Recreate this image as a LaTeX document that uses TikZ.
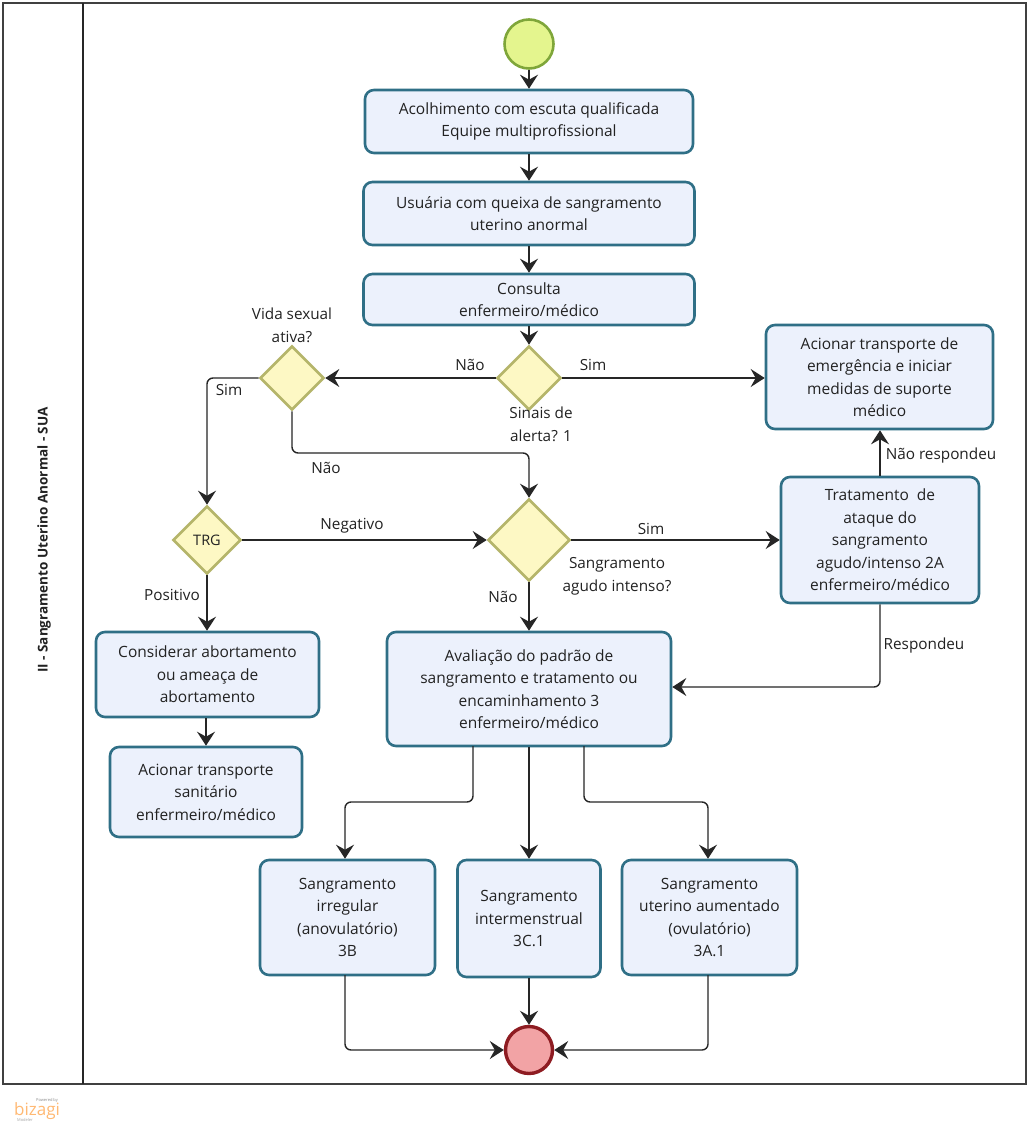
\documentclass[tikz,border=0pt]{standalone}
\usepackage{fontspec}
\setmainfont{Open Sans}
\usetikzlibrary{shapes.geometric,arrows.meta,calc}
\definecolor{boxfill}{HTML}{ECF1FC}
\definecolor{boxline}{HTML}{2F6F86}
\definecolor{diafill}{HTML}{FDF8C4}
\definecolor{dialine}{HTML}{B5B56A}
\definecolor{startfill}{HTML}{E4F58E}
\definecolor{startline}{HTML}{7FA63A}
\definecolor{endfill}{HTML}{F2A3A5}
\definecolor{endline}{HTML}{8E1C22}
\definecolor{txt}{HTML}{222222}
\tikzset{
  boxnode/.style={draw=boxline,fill=boxfill,line width=2.6pt,rounded corners=9pt,align=center,inner sep=0pt,text=txt,font=\fontsize{15.5}{22.5}\selectfont},
  dia/.style={draw=dialine,fill=diafill,line width=2.6pt,diamond,aspect=1,inner sep=0pt,text=txt,font=\fontsize{14.5}{16}\selectfont},
  lab/.style={align=center,inner sep=0pt,text=txt,font=\fontsize{15.3}{23}\selectfont},
  conn/.style={draw=black!85,line width=1.4pt,rounded corners=6pt,-{Stealth[length=14pt,width=18pt,inset=5pt]}},
}
\newcommand{\bx}[6]{\node[boxnode,minimum width=#3 pt,minimum height=#4 pt] (#5) at (#1,#2) {#6};}
\begin{document}
\begin{tikzpicture}[x=1pt,y=-1pt]
\useasboundingbox (0,0) rectangle (1029,1123);
\fill[white] (0,0) rectangle (1029,1123);
\node[draw=black!75,line width=1.8pt,minimum width=1023pt,minimum height=1081pt,inner sep=0pt] (pool) at (514.5,543.5) {};
\coordinate (lt) at (83,3);
\coordinate (lb) at (83,1084);
\draw[black!85,line width=1.8pt] (lt) -- (lb);
\node[rotate=90,inner sep=0pt,text=txt,font=\fontsize{13.5}{16}\selectfont\bfseries] (title) at (44,540) {II - Sangramento Uterino Anormal - SUA};

\node[circle,draw=startline,fill=startfill,line width=2.6pt,minimum size=49pt,inner sep=0pt] (start) at (529,44) {};
\node[circle,draw=endline,fill=endfill,line width=3.4pt,minimum size=47pt,inner sep=0pt] (end) at (529,1050) {};

\bx{529}{121.5}{328}{63}{acol}{Acolhimento com escuta qualificada\\Equipe multiprofissional}
\bx{529}{213.5}{331}{63}{usu}{Usuária com queixa de sangramento\\uterino anormal}
\bx{529}{299.5}{331}{51}{cons}{Consulta\\enfermeiro/médico}
\bx{879.5}{377}{227}{104}{emer}{Acionar transporte de\\emergência e iniciar\\medidas de suporte\\médico}
\bx{880}{540}{198}{126}{trat}{Tratamento\ \ de\\ataque do\\sangramento\\agudo/intenso 2A\\enfermeiro/médico}
\bx{529}{689}{284}{114}{aval}{Avaliação do padrão de\\sangramento e tratamento ou\\encaminhamento 3\\enfermeiro/médico}
\bx{207.5}{674.5}{223}{85}{cons2}{Considerar abortamento\\ou ameaça de\\abortamento}
\bx{206}{792}{192}{90}{trans}{Acionar transporte\\sanitário\\enfermeiro/médico}
\bx{347.5}{917.5}{175}{115}{irr}{Sangramento\\irregular\\(anovulatório)\\3B}
\bx{529}{918.5}{143}{117}{inter}{Sangramento\\intermenstrual\\3C.1}
\bx{709.5}{917.5}{175}{115}{ute}{Sangramento\\uterino aumentado\\(ovulatório)\\3A.1}

\node[dia,minimum size=64pt] (sin) at (529,378) {};
\node[dia,minimum size=64pt] (vida) at (292,378) {};
\node[dia,minimum size=68pt] (trg) at (207,540) {TRG};
\node[dia,minimum size=82pt] (sang) at (529,540) {};

\draw[conn] (start) -- (acol);
\draw[conn] (acol) -- (usu);
\draw[conn] (usu) -- (cons);
\draw[conn] (cons) -- (sin);
\draw[conn] (sin.west) -- (vida.east);
\draw[conn] (sin.east) -- (sin.east -| emer.west);
\coordinate (v1) at (207,378);
\draw[conn] (vida.west) -- (v1) -- (trg.north);
\coordinate (v2) at (292,453);
\coordinate (v3) at (529,453);
\draw[conn] (vida.south) -- (v2) -- (v3) -- (sang.north);
\draw[conn] (trg.east) -- (sang.west);
\draw[conn] (trg.south) -- (trg.south |- cons2.north);
\draw[conn] (trans.north |- cons2.south) -- (trans.north);
\draw[conn] (sang.east) -- (sang.east -| trat.west);
\draw[conn] (sang.south) -- (aval.north);
\draw[conn] (trat.north) -- (trat.north |- emer.south);
\coordinate (t1) at (880,687);
\draw[conn] (trat.south) -- (t1) -- (t1 -| aval.east);
\coordinate (a1) at (473,746);
\coordinate (a2) at (473,802);
\coordinate (a3) at (345,802);
\coordinate (a4) at (584,746);
\coordinate (a5) at (584,802);
\coordinate (a6) at (708,802);
\draw[conn] (a1) -- (a2) -- (a3) -- (a3 |- irr.north);
\draw[conn] (aval.south) -- (inter.north);
\draw[conn] (a4) -- (a5) -- (a6) -- (a6 |- ute.north);
\coordinate (i1) at (345,975);
\coordinate (i2) at (345,1050);
\coordinate (u1) at (708,975);
\coordinate (u2) at (708,1050);
\draw[conn] (i1) -- (i2) -- (end.west);
\draw[conn] (inter.south) -- (end.north);
\draw[conn] (u1) -- (u2) -- (end.east);

\node[lab] (l1) at (292,325.5) {Vida sexual\\ativa?};
\node[lab] (l2) at (470,365) {Não};
\node[lab] (l3) at (593,365) {Sim};
\node[lab] (l4) at (541,424) {Sinais de\\alerta? 1};
\node[lab] (l5) at (229,390) {Sim};
\node[lab] (l6) at (326,468) {Não};
\node[lab] (l7) at (352,526) {Negativo};
\node[lab] (l8) at (651,529) {Sim};
\node[lab] (l9) at (617,576) {Sangramento\\agudo intenso?};
\node[lab] (l10) at (503,597) {Não};
\node[lab] (l11) at (172,595) {Positivo};
\node[lab] (l12) at (941,456) {Não respondeu};
\node[lab] (l13) at (924,646) {Respondeu};

\node[inner sep=0pt,text=orange!55!white,font=\fontsize{17}{17}\selectfont] (bz) at (37,1111) {bizagi};
\node[inner sep=0pt,text=black!45,font=\fontsize{4}{4}\selectfont] (bp) at (47,1100) {Powered by};
\node[inner sep=0pt,text=black!35,font=\fontsize{4}{4}\selectfont] (bm) at (25,1120) {Modeler};
\end{tikzpicture}
\end{document}
